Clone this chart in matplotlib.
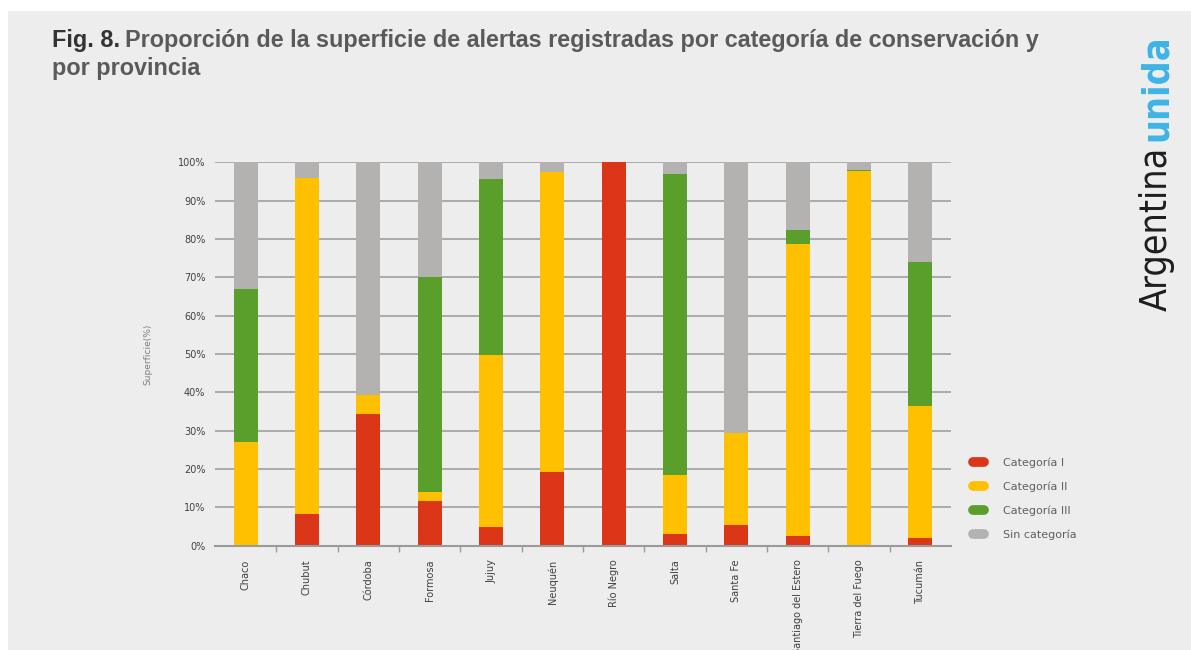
import matplotlib
matplotlib.use("Agg")
import matplotlib.pyplot as plt
import numpy as np
from matplotlib import font_manager
from matplotlib.lines import Line2D
from matplotlib.patches import Rectangle

# Data (% of alert surface per conservation category)
provincias = ["Chaco", "Chubut", "Córdoba", "Formosa", "Jujuy", "Neuquén", "Río Negro",
              "Salta", "Santa Fe", "Santiago del Estero", "Tierra del Fuego", "Tucumán"]
cat_i = [0.0, 8.2, 34.3, 11.7, 5.0, 19.1, 100.0, 3.0, 5.4, 2.5, 0.0, 1.9]
cat_ii = [27.0, 87.6, 5.0, 2.4, 44.8, 78.4, 0.0, 15.4, 23.9, 76.1, 97.8, 34.5]
cat_iii = [40.0, 0.0, 0.0, 55.9, 45.8, 0.0, 0.0, 78.5, 0.0, 3.7, 0.2, 37.6]
sin_cat = [33.0, 4.2, 60.7, 30.0, 4.4, 2.5, 0.0, 3.1, 70.7, 17.7, 2.0, 26.0]

series = [("Categoría I", cat_i, "#dc3618"),
          ("Categoría II", cat_ii, "#ffc000"),
          ("Categoría III", cat_iii, "#5a9e2c"),
          ("Sin categoría", sin_cat, "#b3b2b0")]

installed = {f.name for f in font_manager.fontManager.ttflist}
title_font = "Liberation Sans" if "Liberation Sans" in installed else "DejaVu Sans"
# condensed DejaVu if present, otherwise a smaller regular size
has_condensed = any(f.name == "DejaVu Sans" and f.stretch == "condensed"
                    for f in font_manager.fontManager.ttflist)
logo_kw = dict(family="DejaVu Sans", fontstretch="condensed", fontsize=27) if has_condensed \
    else dict(family="DejaVu Sans", fontsize=24.8)

W, H = 1191, 650
fig = plt.figure(figsize=(W / 100, H / 100), dpi=100, facecolor="white")
# light gray panel behind everything
fig.patches.append(Rectangle((8 / W, 0), 1, 1 - 11 / H, transform=fig.transFigure,
                             facecolor="#ededed", edgecolor="none", zorder=-10))

ax = fig.add_axes([215 / W, 1 - 545.7 / H, 736 / W, 383.4 / H])
ax.set_facecolor("none")

x = np.arange(len(provincias))
bottom = np.zeros(len(provincias))
for name, vals, color in series:
    ax.bar(x, vals, width=0.39, bottom=bottom, color=color, label=name, zorder=3)
    bottom += np.array(vals)

ax.set_xlim(-0.5, len(provincias) - 0.5)
ax.set_ylim(0, 100)
ax.set_yticks(np.arange(0, 101, 10))
ax.set_yticklabels([f"{v}%" for v in range(0, 101, 10)])
ax.yaxis.grid(True, color="#a6a6a6", linewidth=1.3, zorder=0)
ax.set_axisbelow(True)

ax.set_xticks(x)
ax.set_xticklabels(provincias, rotation=90, va="top", ha="center")
ax.set_xticks(np.arange(0.5, len(provincias) - 0.5, 1), minor=True)
ax.tick_params(axis="x", which="major", length=0, pad=10, labelsize=7, labelcolor="#404040")
ax.tick_params(axis="x", which="minor", length=4, width=1, color="#9a9a9a", direction="out")
ax.tick_params(axis="y", length=0, pad=7, labelsize=7, labelcolor="#404040")

for side in ["top", "right", "left"]:
    ax.spines[side].set_visible(False)
ax.spines["bottom"].set_color("#9a9a9a")
ax.spines["bottom"].set_linewidth(1.5)
ax.spines["bottom"].set_zorder(4)

ax.set_ylabel("Superficie(%)", fontsize=6.5, color="#7f7f7f", labelpad=18)

# Legend with rounded pill markers
handles = [Line2D([0], [0], color=c, lw=7, solid_capstyle="round") for _, _, c in series]
fig.legend(handles, [n for n, _, _ in series], loc="upper left",
           bbox_to_anchor=(967 / W, 1 - 452 / H), frameon=False, fontsize=8,
           labelcolor="#5f5f5f", handlelength=1.0, handletextpad=1.7,
           labelspacing=1.2, borderpad=0)

# Title in two colours
renderer = fig.canvas.get_renderer()
t1 = fig.text(52 / W, 1 - 47 / H, "Fig. 8.", fontsize=16.8, fontweight="bold",
              color="#333333", family=title_font, va="baseline")
bb = t1.get_window_extent(renderer)
fig.text((bb.x1 + 5) / W, 1 - 47 / H,
         "Proporción de la superficie de alertas registradas por categoría de conservación y",
         fontsize=16.8, fontweight="bold", color="#5a5a5a", family=title_font, va="baseline")
fig.text(52 / W, 1 - 75 / H, "por provincia", fontsize=16.8, fontweight="bold",
         color="#5a5a5a", family=title_font, va="baseline")

# Vertical logo text
a1 = fig.text(1157 / W, 1 - 311 / H, "Argentina", rotation=90,
              color="#1d1d1b", ha="center", va="bottom", **logo_kw)
ab = a1.get_window_extent(renderer)
fig.text(1157 / W, (ab.y1 + 6) / H, "unida", rotation=90, fontweight="bold",
         color="#3db4e6", ha="center", va="bottom", **logo_kw)

fig.savefig("out.png", dpi=100, facecolor=fig.get_facecolor())
